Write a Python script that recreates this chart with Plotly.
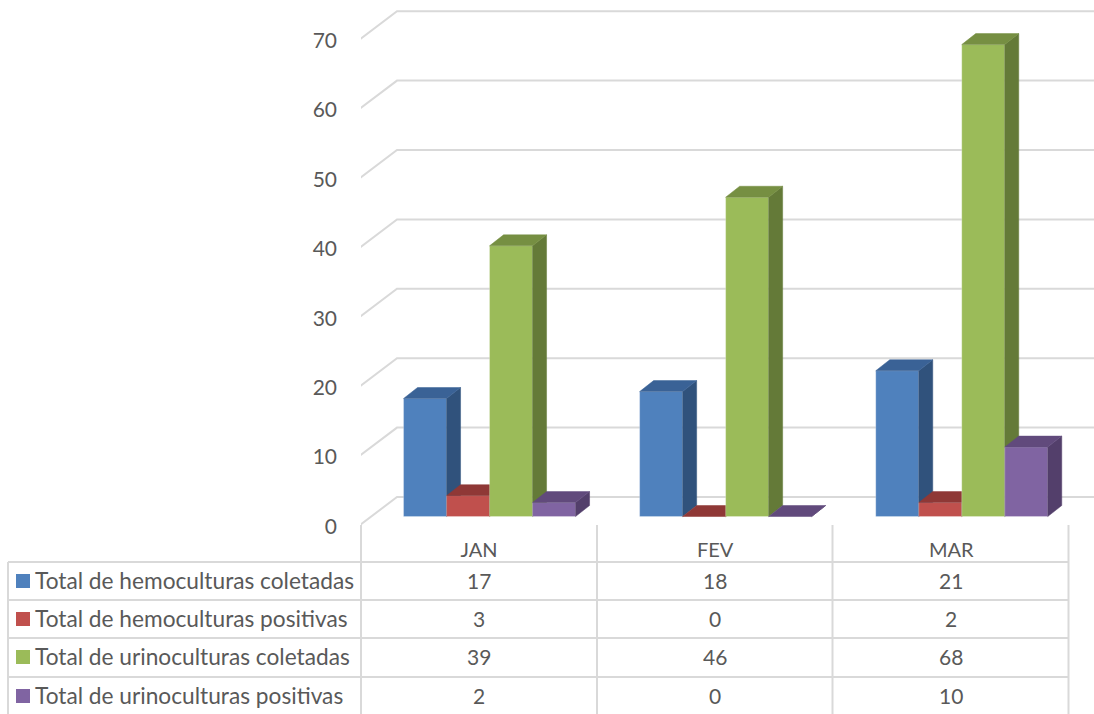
import plotly.graph_objects as go

months = ["JAN", "FEV", "MAR"]
hemo_coletadas = [17, 18, 21]
hemo_positivas = [3, 0, 2]
uro_coletadas = [39, 46, 68]
uro_positivas = [2, 0, 10]
series_names = ["Total de hemoculturas coletadas", "Total de hemoculturas positivas",
                "Total de urinoculturas coletadas", "Total de urinoculturas positivas"]
series_values = [hemo_coletadas, hemo_positivas, uro_coletadas, uro_positivas]
front_colors = ["#4F81BD", "#C0504D", "#9BBB59", "#8064A2"]
top_colors = ["#3A6296", "#8F3836", "#768F42", "#614A7C"]
side_colors = ["#30527C", "#7F302E", "#647A38", "#533F6B"]
y_ticks = [0, 10, 20, 30, 40, 50, 60, 70]

FONT = "Lato"
TEXT = "#595959"
LINE = "#D9D9D9"
W, H = 1094, 714
L, BOTTOM = 361, 530          # plot area left edge / bottom edge, px
X_SCALE, Y_SCALE = 236.1, 6.94  # px per category, px per value
Y0 = 516.5                    # px of value 0 on the bars' front plane

def xd(px):
    return (px - L) / X_SCALE - 0.5
def dy(px):
    return px / Y_SCALE
def yd(px):
    return (Y0 - px) / Y_SCALE
def xp(px):
    return (px - L) / (W - L)
def yp(px):
    return 1 - px / BOTTOM

x_range = [xd(L), xd(W)]
y_range = [yd(BOTTOM), yd(0)]

bar_w = 43 / X_SCALE
group_shift = 10.5 / X_SCALE
depth_x, depth_y = 14 / X_SCALE, dy(11)

fig = go.Figure()

# Walls: gridlines on the back plane and diagonals on the left wall
gx, gy = [], []
back_dx_l, back_dx_r = xd(397), xd(1110)
for v in y_ticks:
    gx += [xd(360), back_dx_l, back_dx_r, None]
    gy += [v + dy(Y0 - 525), v + dy(Y0 - 497), v + dy(Y0 - 497), None]
fig.add_trace(go.Scatter(x=gx, y=gy, mode="lines", line=dict(color=LINE, width=2),
                         hoverinfo="skip", showlegend=False))

# One overlaid axis pair per series so each bar paints over the previous one's depth faces
for j, (name, vals) in enumerate(zip(series_names, series_values)):
    n = j + 2
    xa, ya = f"x{n}", f"y{n}"
    xs = [i + group_shift + (j - 1.5) * bar_w for i in range(len(months))]
    fig.add_trace(go.Bar(x=xs, y=vals, width=bar_w, name=name, xaxis=xa, yaxis=ya,
                         marker=dict(color=front_colors[j],
                                     line=dict(color="rgba(255,255,255,0.25)", width=1)),
                         showlegend=False))
    for x, v in zip(xs, vals):
        x0, x1 = x - bar_w / 2, x + bar_w / 2
        fig.add_trace(go.Scatter(
            x=[x1, x1 + depth_x, x1 + depth_x, x1, x1],
            y=[0, depth_y, v + depth_y, v, 0],
            fill="toself", fillcolor=side_colors[j], mode="lines",
            line=dict(color=side_colors[j], width=0.5), xaxis=xa, yaxis=ya,
            hoverinfo="skip", showlegend=False))
        fig.add_trace(go.Scatter(
            x=[x0, x1, x1 + depth_x, x0 + depth_x, x0],
            y=[v, v, v + depth_y, v + depth_y, v],
            fill="toself", fillcolor=top_colors[j], mode="lines",
            line=dict(color=top_colors[j], width=0.5), xaxis=xa, yaxis=ya,
            hoverinfo="skip", showlegend=False))

shapes = []
annotations = []
def hline(p, a, b):
    shapes.append(dict(type="line", xref="paper", yref="paper", x0=xp(a), x1=xp(b),
                       y0=yp(p), y1=yp(p), line=dict(color=LINE, width=2)))
def vline(a, p0, p1):
    shapes.append(dict(type="line", xref="paper", yref="paper", x0=xp(a), x1=xp(a),
                       y0=yp(p0), y1=yp(p1), line=dict(color=LINE, width=2)))

row_lines = [562, 600, 638, 677]
row_centers = [581, 619, 657, 696]
for p in row_lines:
    hline(p, 8, 1069)
vline(8, 562, 714)
for a in [361, 597, 832.5, 1068.5]:
    vline(a, 525, 714)

for name, vals, color, c in zip(series_names, series_values, front_colors, row_centers):
    shapes.append(dict(type="rect", xref="paper", yref="paper", x0=xp(16), x1=xp(30),
                       y0=yp(c - 7), y1=yp(c + 7), fillcolor=color, line=dict(width=0)))
    annotations.append(dict(text=name, xref="paper", yref="paper", x=xp(33), y=yp(c - 1),
                            xanchor="left", yanchor="middle", showarrow=False,
                            font=dict(family=FONT, size=22.7, color=TEXT)))
    for i, v in enumerate(vals):
        annotations.append(dict(text=str(v), xref="x", yref="paper", x=i, y=yp(c - 1),
                                xanchor="center", yanchor="middle", showarrow=False,
                                font=dict(family=FONT, size=21, color=TEXT)))

layout = dict(
    width=W, height=H, autosize=False,
    margin=dict(l=L, r=0, t=0, b=H - BOTTOM, pad=0),
    paper_bgcolor="white", plot_bgcolor="white",
    barmode="overlay", showlegend=False,
    font=dict(family=FONT, size=20, color=TEXT),
    shapes=shapes, annotations=annotations,
    xaxis=dict(range=x_range, tickmode="array", tickvals=[0, 1, 2], ticktext=months,
               showgrid=False, zeroline=False, showline=False, ticks="", ticklen=0,
               ticklabelstandoff=6, tickfont=dict(family=FONT, size=20, color=TEXT)),
    yaxis=dict(range=y_range, tickmode="array", tickvals=y_ticks, showgrid=False,
               zeroline=False, showline=False, ticks="", ticklen=0,
               ticklabelstandoff=23, ticklabelshift=10,
               tickfont=dict(family=FONT, size=21, color=TEXT)),
)
for n in range(2, 6):
    layout[f"xaxis{n}"] = dict(range=x_range, overlaying="x", visible=False, anchor=f"y{n}")
    layout[f"yaxis{n}"] = dict(range=y_range, overlaying="y", visible=False, anchor=f"x{n}")
fig.update_layout(**layout)

fig.write_html("out.html", config={"displayModeBar": False},
               post_script="document.body.style.margin='0';document.body.style.overflow='hidden';")
